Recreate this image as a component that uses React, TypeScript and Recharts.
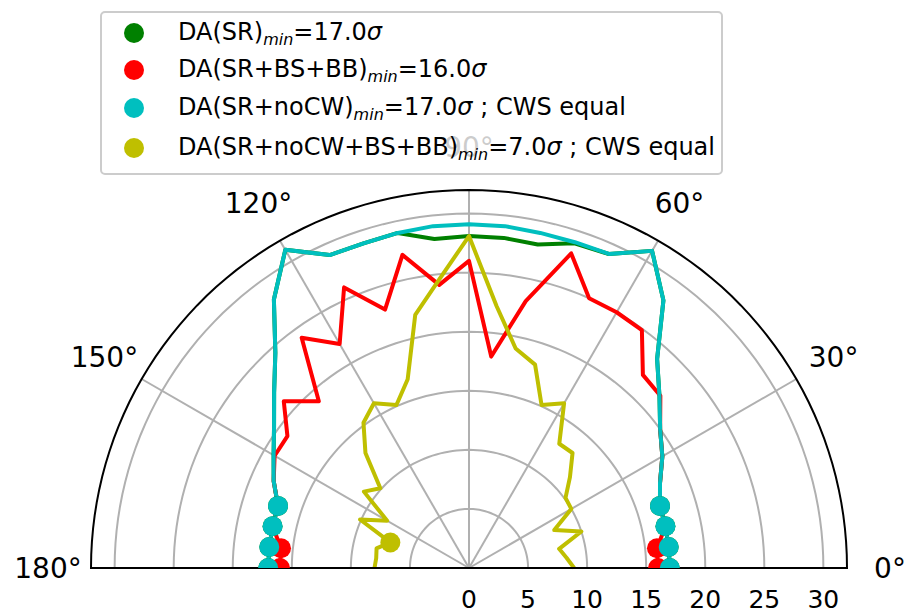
import React from 'react';
import { RadarChart, Radar, PolarGrid, PolarAngleAxis, PolarRadiusAxis } from 'recharts';

// scan angles (deg) and dynamic aperture in sigma
const angles = [0, 6, 12, 18, 24, 30, 36, 42, 48, 54, 60, 66, 72, 78, 84, 90, 96, 102, 108, 114, 120, 126, 132, 138, 144, 150, 156, 162, 168, 174, 180];

const daSR = [17.0, 17.0, 17.0, 17.0, 17.7, 18.9, 20.0, 21.7, 23.8, 28.0, 31.0, 29.1, 28.9, 28.0, 28.1, 28.1, 28.0, 29.0, 28.9, 29.0, 31.1, 28.1, 24.5, 22.2, 20.4, 19.1, 18.1, 17.0, 17.0, 17.0, 17.0];
const daSRBSBB = [16.0, 16.0, 17.0, 17.0, 17.7, 18.9, 20.0, 21.8, 22.0, 24.9, 25.0, 25.0, 28.0, 23.1, 18.0, 26.0, 24.1, 27.1, 23.0, 26.0, 21.9, 24.1, 19.0, 21.1, 19.0, 19.0, 18.1, 17.0, 17.0, 16.0, 16.0];
const daNoCW = [17.0, 17.0, 17.0, 17.0, 17.7, 18.9, 20.0, 21.7, 23.8, 28.0, 31.0, 29.1, 29.0, 29.0, 29.1, 29.1, 29.1, 29.0, 28.9, 29.0, 31.1, 28.1, 24.5, 22.2, 20.4, 19.1, 18.1, 17.0, 17.0, 17.0, 17.0];
const daNoCWBSBB = [8.9, 8.3, 7.8, 10.0, 7.9, 10.0, 10.1, 11.5, 13.1, 13.0, 16.1, 15.1, 18.1, 19.0, 22.3, 28.1, 24.5, 21.9, 16.8, 15.1, 16.1, 15.2, 13.1, 10.1, 11.0, 8.0, 10.1, 7.0, 8.0, 7.9, 8.0];

// angles where each curve sits at its minimum
const minSR = [0, 6, 12, 18, 162, 168, 174, 180];
const minSRBSBB = [0, 6, 174, 180];
const minNoCW = [0, 6, 12, 18, 162, 168, 174, 180];
const minNoCWBSBB = [162];

const angleTicks = [0, 30, 60, 90, 120, 150, 180];
const radiusTicks = [0, 5, 10, 15, 20, 25, 30];

const rows = angles.map((a, i) => ({
    angle: a,
    sr: daSR[i],
    srBsBb: daSRBSBB[i],
    noCw: daNoCW[i],
    noCwBsBb: daNoCWBSBB[i],
}));

// fine steps so the outer spine and grid rings look round
const outlineAngles = Array.from({ length: 91 }, (_, i) => i * 2);

const W = 905;
const H = 613;
const CX = 469;
const CY = 568;
const FONT = '"DejaVu Sans", sans-serif';

const GREEN = '#008000';
const RED = '#ff0000';
const CYAN = '#00bfbf';
const OLIVE = '#bfbf00';

const openLine = (color: string) => (props: any) => (
    <polyline
        points={(props.points || []).map((p: any) => `${p.x},${p.y}`).join(' ')}
        fill="none"
        stroke={color}
        strokeWidth={4}
        strokeLinejoin="round"
    />
);

const minDot = (color: string, marks: number[]) => (props: any) => {
    const { cx, cy, index } = props;
    if (!marks.includes(angles[index])) return <g key={`d-${index}`} />;
    return <circle key={`d-${index}`} cx={cx} cy={cy} r={10} fill={color} clipPath="url(#upper-half)" />;
};

const AngleTick = (props: any) => {
    const { x, y, payload } = props;
    if (!angleTicks.includes(payload.value)) return <g />;
    return (
        <text x={x} y={y} textAnchor="middle" dominantBaseline="central" fontSize={28} fontFamily={FONT} fill="#000">
            {payload.value}°
        </text>
    );
};

const RadiusTick = (props: any) => {
    const { x, y, payload } = props;
    return (
        <text x={x} y={y + 31} textAnchor="middle" dominantBaseline="central" fontSize={25} fontFamily={FONT} fill="#000">
            {payload.value}
        </text>
    );
};

const legendItems = [
    { color: GREEN, label: 'DA(SR)', value: '=17.0', tail: '', y: 33 },
    { color: RED, label: 'DA(SR+BS+BB)', value: '=16.0', tail: '', y: 70 },
    { color: CYAN, label: 'DA(SR+noCW)', value: '=17.0', tail: ' ; CWS equal', y: 108 },
    { color: OLIVE, label: 'DA(SR+noCW+BS+BB)', value: '=7.0', tail: ' ; CWS equal', y: 148 },
];

function LegendBox() {
    return (
        <div
            style={{
                position: 'absolute',
                left: 100,
                top: 11,
                width: 619,
                height: 160,
                border: '2px solid #cccccc',
                borderRadius: 5,
                background: 'rgba(255,255,255,0.8)',
            }}
        >
            {legendItems.map((it) => (
                <div
                    key={it.label}
                    style={{
                        position: 'absolute',
                        left: 0,
                        top: it.y - 13 - 20,
                        height: 40,
                        display: 'flex',
                        alignItems: 'center',
                        whiteSpace: 'nowrap',
                        fontFamily: FONT,
                        fontSize: 24,
                        color: '#000',
                    }}
                >
                    <span
                        style={{
                            display: 'inline-block',
                            width: 20,
                            height: 20,
                            borderRadius: '50%',
                            background: it.color,
                            marginLeft: 22,
                            marginRight: 34,
                        }}
                    />
                    <span>
                        {it.label}
                        <sub style={{ fontSize: 16, fontStyle: 'italic', verticalAlign: -5 }}>min</sub>
                        {it.value}
                        <i>σ</i>
                        {it.tail}
                    </span>
                </div>
            ))}
        </div>
    );
}

export default function App() {
    return (
        <div style={{ position: 'absolute', left: 0, top: 0, width: W, height: H, background: '#fff' }}>
            <svg width={0} height={0} style={{ position: 'absolute' }}>
                <defs>
                    <clipPath id="upper-half" clipPathUnits="userSpaceOnUse">
                        <rect x={0} y={0} width={W} height={CY} />
                    </clipPath>
                </defs>
            </svg>
            <RadarChart
                width={W}
                height={H}
                data={rows}
                cx={CX}
                cy={CY}
                innerRadius={0}
                outerRadius={378}
                startAngle={0}
                endAngle={180}
                margin={{ top: 0, right: 0, bottom: 0, left: 0 }}
            >
                <PolarGrid gridType="polygon" radialLines={false} stroke="#b0b0b0" strokeWidth={2} />
                <PolarGrid polarAngles={angleTicks} polarRadius={[]} stroke="#b0b0b0" strokeWidth={2} />
                <Radar dataKey="sr" name="DA(SR)" stroke={GREEN} fill="none" shape={openLine(GREEN)} dot={minDot(GREEN, minSR)} isAnimationActive={false} />
                <Radar dataKey="srBsBb" name="DA(SR+BS+BB)" stroke={RED} fill="none" shape={openLine(RED)} dot={minDot(RED, minSRBSBB)} isAnimationActive={false} />
                <Radar dataKey="noCw" name="DA(SR+noCW)" stroke={CYAN} fill="none" shape={openLine(CYAN)} dot={minDot(CYAN, minNoCW)} isAnimationActive={false} />
                <Radar dataKey="noCwBsBb" name="DA(SR+noCW+BS+BB)" stroke={OLIVE} fill="none" shape={openLine(OLIVE)} dot={minDot(OLIVE, minNoCWBSBB)} isAnimationActive={false} />
                <PolarAngleAxis
                    dataKey="angle"
                    type="number"
                    domain={[0, 180]}
                    ticks={outlineAngles}
                    axisLineType="polygon"
                    axisLine={{ stroke: '#000', strokeWidth: 2 }}
                    tickLine={false}
                    tickSize={43}
                    tick={AngleTick}
                />
                <PolarRadiusAxis
                    angle={0}
                    type="number"
                    domain={[0, 32]}
                    ticks={radiusTicks}
                    axisLine={false}
                    tick={RadiusTick}
                />
            </RadarChart>
            <LegendBox />
        </div>
    );
}
